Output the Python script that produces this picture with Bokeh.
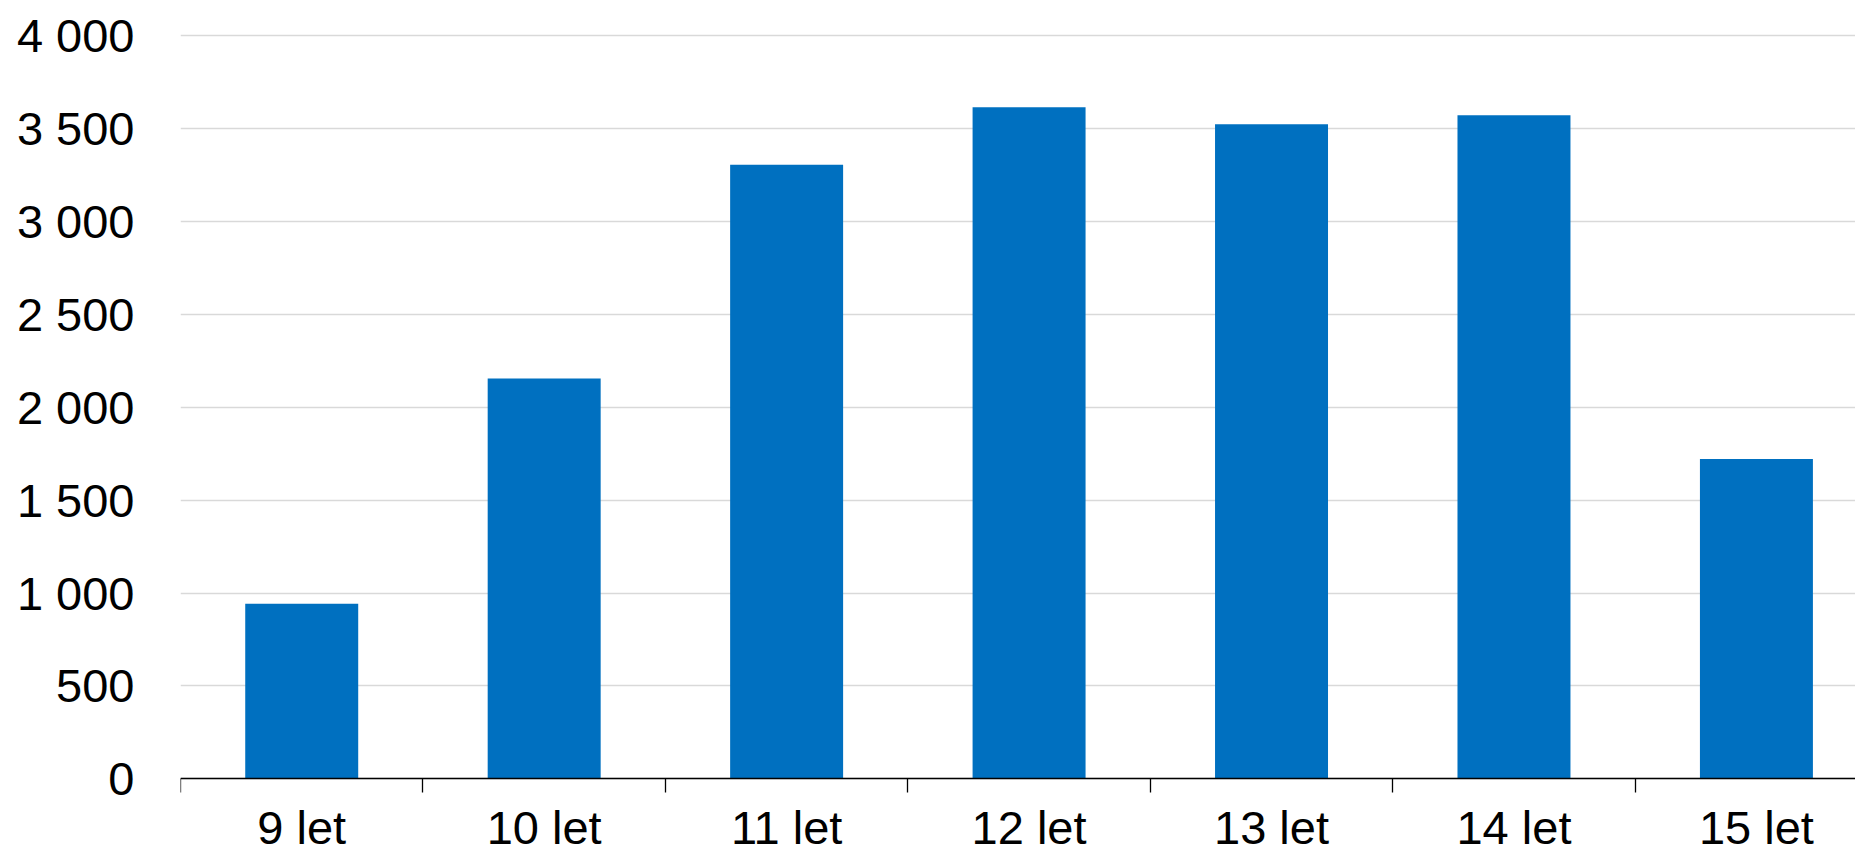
from bokeh.plotting import figure
from bokeh.models import Range1d, FixedTicker, LinearAxis
from bokeh.embed import file_html
from bokeh.resources import INLINE

# ---- data ----
categories = ["9 let", "10 let", "11 let", "12 let", "13 let", "14 let", "15 let"]
values = [942, 2155, 3305, 3615, 3523, 3572, 1721]
y_ticks = [0, 500, 1000, 1500, 2000, 2500, 3000, 3500, 4000]
y_tick_labels = ["0", "500", "1 000", "1 500", "2 000", "2 500", "3 000", "3 500", "4 000"]

# ---- layout constants ----
W, H = 1855, 846
LEFT, TOP = 180, 33
PX_PER_UNIT = 743.3 / 4000           # vertical scale of the reference
ZERO_PX = 778.4                      # canvas row of the value 0
CAT_PX = 242.45                      # pixel width of one category in the reference
X_END = (W - LEFT) / CAT_PX          # the reference crops the last category slightly
Y_START = -(H - ZERO_PX) / PX_PER_UNIT
Y_END = (ZERO_PX - TOP) / PX_PER_UNIT
BAR_W = 0.466
FONT = "Liberation Sans"
FS = "47px"

centers = [i + 0.5 for i in range(len(categories))]
bounds = list(range(len(categories) + 1))

p = figure(width=W, height=H, x_range=Range1d(0, X_END), y_range=Range1d(Y_START, Y_END),
           output_backend="svg", toolbar_location=None, x_axis_location=None,
           min_border_left=LEFT, min_border_right=0, min_border_top=TOP,
           min_border_bottom=0)
p.outline_line_color = None
p.background_fill_color = "white"
p.border_fill_color = "white"
for g in p.grid:
    if g.dimension == 0:
        g.visible = False

p.vbar(x=centers, top=values, width=BAR_W, fill_color="#0070C0", line_color=None)

# x axis line + boundary ticks, placed at value 0
tick_axis = LinearAxis(fixed_location=0, ticker=FixedTicker(ticks=bounds),
                       major_label_overrides={b: "" for b in bounds},
                       major_tick_in=0, major_tick_out=14,
                       major_tick_line_color="black", major_tick_line_width=1.3,
                       minor_tick_line_color=None,
                       axis_line_color="black", axis_line_width=1.3)
p.add_layout(tick_axis, "below")

# category labels centred under the bars
label_axis = LinearAxis(fixed_location=0, ticker=FixedTicker(ticks=centers),
                        major_label_overrides={c: t for c, t in zip(centers, categories)},
                        major_tick_in=0, major_tick_out=0, major_tick_line_color=None,
                        minor_tick_line_color=None, axis_line_color=None,
                        major_label_standoff=22,
                        major_label_text_font=FONT, major_label_text_font_size=FS,
                        major_label_text_color="black")
p.add_layout(label_axis, "below")

ya = p.yaxis[0]
ya.ticker = FixedTicker(ticks=y_ticks)
ya.major_label_overrides = {t: l for t, l in zip(y_ticks, y_tick_labels)}
ya.axis_line_color = None
ya.major_tick_line_color = None
ya.minor_tick_line_color = None
ya.major_label_standoff = 40
ya.major_label_text_font = FONT
ya.major_label_text_font_size = FS
ya.major_label_text_color = "black"
p.ygrid.ticker = FixedTicker(ticks=y_ticks)
p.ygrid.grid_line_color = "#d9d9d9"
p.ygrid.grid_line_width = 1.3

open("out.html", "w").write(file_html(p, INLINE))
